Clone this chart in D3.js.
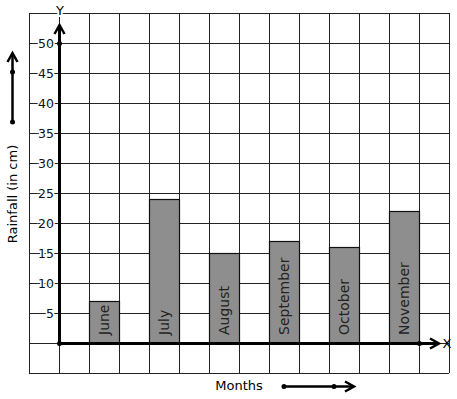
<!DOCTYPE html>
<html>
<head>
<meta charset="utf-8">
<script src="https://cdn.jsdelivr.net/npm/d3@7"></script>
<style>
  body { margin: 0; background: #fff; }
  svg { display: block; font-family: "DejaVu Sans", sans-serif; }
</style>
</head>
<body>
<div id="chart"></div>
<script>
const months = ['June', 'July', 'August', 'September', 'October', 'November'];
const rainfall = [7, 24, 15, 17, 16, 22];
const yTicks = [5, 10, 15, 20, 25, 30, 35, 40, 45, 50];

const width = 457, height = 399;
const cell = 30;
const gridLeft = 29, gridTop = 13, cols = 14, rows = 12;

const svg = d3.select('#chart')
  .append('svg')
  .attr('width', width)
  .attr('height', height);

const y = d3.scaleLinear().domain([0, 50]).range([343, 43]);
const x = d3.scaleBand().domain(months).range([89, 419]).paddingInner(0.5);
const x0 = 59, y0 = y(0);

// grid
const grid = svg.append('g').attr('stroke', '#222').attr('stroke-width', 1);
d3.range(cols + 1).forEach(i => {
  grid.append('line')
    .attr('x1', gridLeft + i * cell + 0.5).attr('x2', gridLeft + i * cell + 0.5)
    .attr('y1', gridTop).attr('y2', gridTop + rows * cell);
});
d3.range(rows + 1).forEach(i => {
  grid.append('line')
    .attr('x1', gridLeft).attr('x2', gridLeft + cols * cell)
    .attr('y1', gridTop + i * cell + 0.5).attr('y2', gridTop + i * cell + 0.5);
});

// bars
svg.selectAll('.bar')
  .data(months)
  .enter()
  .append('rect')
  .attr('class', 'bar')
  .attr('x', d => x(d) + 0.5)
  .attr('y', (d, i) => y(rainfall[i]) + 0.5)
  .attr('width', x.bandwidth())
  .attr('height', (d, i) => y0 - y(rainfall[i]))
  .attr('fill', '#8e8e8e')
  .attr('stroke', '#111')
  .attr('stroke-width', 1.2);

svg.selectAll('.barlabel')
  .data(months)
  .enter()
  .append('text')
  .attr('transform', d => `translate(${x(d) + x.bandwidth() / 2 + 0.5},${y0 - 8}) rotate(-90)`)
  .attr('dy', '0.35em')
  .attr('font-size', 14)
  .attr('fill', '#222')
  .text(d => d);

// tick labels
svg.selectAll('.ytick')
  .data(yTicks)
  .enter()
  .append('text')
  .attr('x', 54)
  .attr('y', d => y(d) + 0.5)
  .attr('dy', '0.35em')
  .attr('text-anchor', 'end')
  .attr('font-size', 12.5)
  .attr('fill', '#111')
  .attr('stroke', '#fff')
  .attr('stroke-width', 3)
  .attr('paint-order', 'stroke')
  .text(d => d);

// arrow helper
function chevron(g, tx, ty, dir) {
  const a = 9, b = 5;
  let pts;
  if (dir === 'up') pts = [[tx - b, ty + a], [tx, ty], [tx + b, ty + a]];
  else pts = [[tx - a, ty - b], [tx, ty], [tx - a, ty + b]];
  g.append('path')
    .attr('d', d3.line()(pts))
    .attr('fill', 'none')
    .attr('stroke', '#000')
    .attr('stroke-width', 2.5);
}
function dot(g, cx, cy) {
  g.append('circle').attr('cx', cx).attr('cy', cy).attr('r', 2.5).attr('fill', '#000');
}

const ax = svg.append('g');
// y axis
ax.append('line').attr('x1', x0 + 0.5).attr('x2', x0 + 0.5).attr('y1', y0 + 0.5).attr('y2', 25)
  .attr('stroke', '#000').attr('stroke-width', 3);
chevron(ax, x0 + 0.5, 25, 'up');
dot(ax, x0 + 0.5, y(50) + 0.5);
// x axis
ax.append('line').attr('x1', x0 + 0.5).attr('x2', 439).attr('y1', y0 + 0.5).attr('y2', y0 + 0.5)
  .attr('stroke', '#000').attr('stroke-width', 3);
chevron(ax, 439, y0 + 0.5, 'right');
dot(ax, x0 + 0.5, y0 + 0.5);
dot(ax, 419.5, y0 + 0.5);

svg.append('text')
  .attr('x', 60).attr('y', 10).attr('dy', '0.35em')
  .attr('text-anchor', 'middle').attr('font-size', 13)
  .attr('stroke', '#fff').attr('stroke-width', 4).attr('paint-order', 'stroke')
  .text('Y');
svg.append('text')
  .attr('x', 447).attr('y', y0 + 0.5).attr('dy', '0.35em')
  .attr('text-anchor', 'middle').attr('font-size', 13)
  .text('X');

// left label + arrow
svg.append('text')
  .attr('transform', 'translate(12,194) rotate(-90)')
  .attr('dy', '0.35em')
  .attr('text-anchor', 'middle')
  .attr('font-size', 13)
  .text('Rainfall (in cm)');
ax.append('line').attr('x1', 12.5).attr('x2', 12.5).attr('y1', 122).attr('y2', 53)
  .attr('stroke', '#000').attr('stroke-width', 2.5);
chevron(ax, 12.5, 53, 'up');
dot(ax, 12.5, 122);
dot(ax, 12.5, 72);

// bottom label + arrow
svg.append('text')
  .attr('x', 239).attr('y', 385).attr('dy', '0.35em')
  .attr('text-anchor', 'middle')
  .attr('font-size', 13)
  .text('Months');
ax.append('line').attr('x1', 284).attr('x2', 354).attr('y1', 386.5).attr('y2', 386.5)
  .attr('stroke', '#000').attr('stroke-width', 2.5);
chevron(ax, 354, 386.5, 'right');
dot(ax, 284, 386.5);
dot(ax, 334, 386.5);
</script>
</body>
</html>
